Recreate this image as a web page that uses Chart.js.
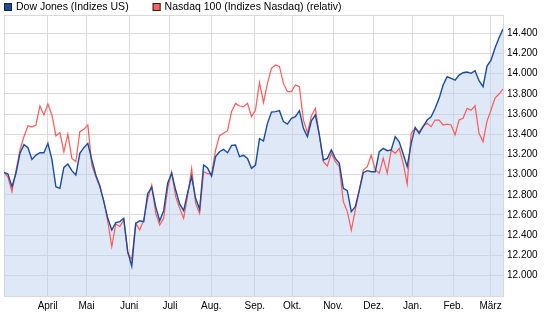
<!DOCTYPE html>
<html>
<head>
<meta charset="utf-8">
<script src="https://cdn.jsdelivr.net/npm/chart.js@4.4.1/dist/chart.umd.min.js"></script>
<style>
  html, body { margin: 0; padding: 0; background: #fff; }
  #wrap { position: relative; width: 545px; height: 330px; }
</style>
</head>
<body>
<div id="wrap"><canvas id="chart"></canvas></div>
<script>
// sample index along the time axis (roughly two trading days per step)
const dow = [
  13022, 13006, 12880, 13013, 13211, 13297, 13267, 13151, 13194, 13217,
  13217, 13310, 13151, 12880, 12864, 13072, 13105, 13039, 12996, 13211,
  13267, 13310, 13145, 12996, 12890, 12732, 12567, 12451, 12524, 12534,
  12567, 12236, 12094, 12517, 12543, 12534, 12814, 12874, 12682, 12543,
  12643, 12914, 13013, 12847, 12709, 12643, 12821, 12980, 12765, 12656,
  13095, 13065, 12986, 13178, 13227, 13250, 13217, 13290, 13293, 13178,
  13191, 13161, 13062, 13095, 13356, 13333, 13508, 13620, 13624, 13634,
  13525, 13501, 13558, 13574, 13634, 13459, 13376, 13534, 13591, 13392,
  13145, 13161, 13244, 13161, 13112, 12864, 12841, 12633, 12682, 12847,
  13019, 13039, 13029, 13029, 13227, 13260, 13237, 13244, 13376, 13326,
  13204, 13079, 13310, 13468, 13409, 13475, 13541, 13574, 13657, 13756,
  13888, 13970, 13954, 13937, 13987, 14010, 14017, 14004, 14030, 13931,
  13871, 14076, 14135, 14255, 14354, 14443
];

// Nasdaq 100 rebased onto the Dow scale (relativ)
const nasdaq = [
  13022, 12973, 12831, 13039, 13244, 13376, 13485, 13472, 13492, 13680,
  13591, 13700, 13591, 13383, 13416, 13227, 13402, 13161, 13128, 13425,
  13449, 13492, 13095, 12979, 12880, 12742, 12534, 12286, 12511, 12484,
  12550, 12220, 12160, 12517, 12451, 12550, 12765, 12897, 12616, 12501,
  12567, 12864, 13029, 12781, 12666, 12567, 12788, 13062, 12715, 12616,
  13029, 13009, 13006, 13244, 13386, 13409, 13435, 13624, 13706, 13680,
  13673, 13706, 13574, 13640, 13914, 13713, 13904, 14053, 14086, 14073,
  13904, 13822, 13822, 13888, 13871, 13541, 13416, 13581, 13657, 13392,
  13128, 13085, 13211, 13128, 13079, 12732, 12633, 12451, 12649, 12841,
  13045, 13079, 13194, 13046, 13013, 13161, 13013, 13244, 13211, 13260,
  13112, 12907, 13409, 13459, 13425, 13482, 13508, 13475, 13541, 13541,
  13492, 13501, 13492, 13393, 13541, 13558, 13657, 13637, 13683, 13409,
  13326, 13531, 13640, 13759, 13799, 13848
];

const monthLabels = ['April', 'Mai', 'Juni', 'Juli', 'Aug.', 'Sep.', 'Okt.', 'Nov.', 'Dez.', 'Jan.', 'Feb.', 'März'];
const monthTicks = [10.93, 20.68, 31.33, 41.58, 51.93, 62.83, 72.18, 82.43, 92.58, 102.33, 112.58, 121.88];
const yTicks = [12000, 12200, 12400, 12600, 12800, 13000, 13200, 13400, 13600, 13800, 14000, 14200, 14400];

const seriesNames = ['Dow Jones (Indizes US)', 'Nasdaq 100 (Indizes Nasdaq) (relativ)'];

const X_MAX = dow.length - 1;
const Y_MIN = 11797;
const Y_MAX = 14582;

const FONT = '"Liberation Sans", Arial, sans-serif';
const GRID = '#d9d9d9';

// legend row along the top edge
const topLegend = {
  id: 'topLegend',
  afterDraw(chart) {
    const ctx = chart.ctx;
    ctx.save();
    ctx.font = '10.5px ' + FONT;
    ctx.textBaseline = 'middle';
    let x = 4;
    chart.data.datasets.forEach(ds => {
      ctx.fillStyle = ds.legendColor;
      ctx.fillRect(x, 3, 8, 8);
      ctx.strokeStyle = '#222';
      ctx.lineWidth = 1;
      ctx.strokeRect(x + 0.5, 3.5, 7, 7);
      ctx.fillStyle = '#000';
      ctx.fillText(ds.label, x + 12, 7.5);
      x += 12 + ctx.measureText(ds.label).width + 24;
    });
    ctx.restore();
  }
};

const data = {
  datasets: [
    {
      label: seriesNames[0],
      data: dow.map((v, i) => ({ x: i, y: v })),
      borderColor: '#1a4c9e',
      legendColor: '#1a4c9e',
      borderWidth: 1.4,
      backgroundColor: 'rgba(190, 210, 240, 0.5)',
      fill: 'start',
      pointRadius: 0,
      tension: 0
    },
    {
      label: seriesNames[1],
      data: nasdaq.map((v, i) => ({ x: i, y: v })),
      borderColor: '#ff5a5a',
      legendColor: '#ff6464',
      borderWidth: 1.2,
      fill: false,
      pointRadius: 0,
      tension: 0
    }
  ]
};

const config = {
  type: 'line',
  data: data,
  options: {
    responsive: true,
    maintainAspectRatio: false,
    animation: false,
    layout: { padding: { top: 15, left: 3, right: 0, bottom: 0 } },
    plugins: {
      legend: { display: false },
      tooltip: { enabled: false },
      // area first, so the Nasdaq line stays on top of it
      filler: { drawTime: 'beforeDatasetsDraw' }
    },
    scales: {
      x: {
        type: 'linear',
        min: 0,
        max: X_MAX,
        afterBuildTicks(scale) {
          scale.ticks = [0, ...monthTicks, X_MAX].map(v => ({ value: v }));
        },
        afterFit(scale) { scale.height = 34; },
        ticks: {
          autoSkip: false,
          maxRotation: 0,
          padding: 4,
          color: '#000',
          font: { family: FONT, size: 10 },
          callback(value) {
            const k = monthTicks.indexOf(value);
            return k >= 0 ? monthLabels[k] : '';
          }
        },
        grid: { color: GRID, lineWidth: 1, drawTicks: false },
        border: { color: GRID }
      },
      y: {
        position: 'right',
        min: Y_MIN,
        max: Y_MAX,
        afterBuildTicks(scale) {
          scale.ticks = [Y_MIN, ...yTicks, Y_MAX].map(v => ({ value: v }));
        },
        afterFit(scale) { scale.width = 42; },
        ticks: {
          padding: 4,
          color: '#000',
          font: { family: FONT, size: 10 },
          callback(value) {
            return yTicks.includes(value) ? value.toLocaleString('de-DE') : '';
          }
        },
        grid: { color: GRID, lineWidth: 1, drawTicks: false },
        border: { color: GRID }
      }
    }
  },
  plugins: [topLegend]
};

const chart = new Chart(document.getElementById('chart'), config);
</script>
</body>
</html>
